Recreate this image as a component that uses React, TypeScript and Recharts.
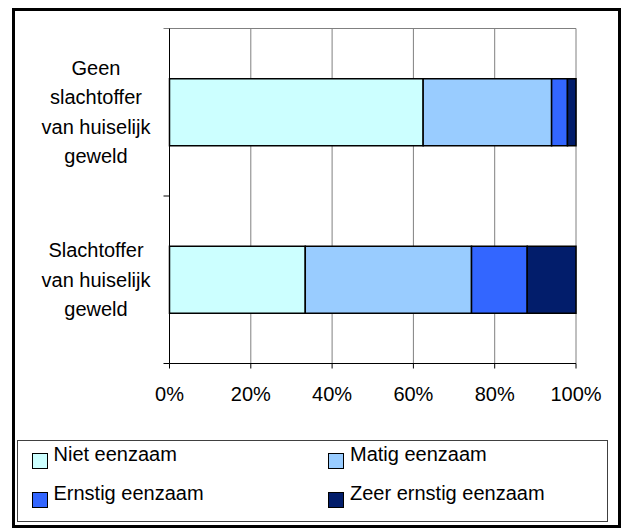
import React from 'react';
import { BarChart, Bar, XAxis, YAxis, CartesianGrid, usePlotArea } from 'recharts';

// categorieën (regelafbrekingen zoals in het origineel)
const CATEGORIES = [
  'Geen\nslachtoffer\nvan huiselijk\ngeweld',
  'Slachtoffer\nvan huiselijk\ngeweld',
];

// percentages per categorie
const NIET_EENZAAM = [62.4, 33.4];
const MATIG_EENZAAM = [31.6, 40.9];
const ERNSTIG_EENZAAM = [3.9, 13.7];
const ZEER_ERNSTIG_EENZAAM = [2.1, 12.0];

const X_TICKS = [0, 20, 40, 60, 80, 100];

const SERIES = [
  { key: 'niet', name: 'Niet eenzaam', values: NIET_EENZAAM, color: '#CCFFFF' },
  { key: 'matig', name: 'Matig eenzaam', values: MATIG_EENZAAM, color: '#99CCFF' },
  { key: 'ernstig', name: 'Ernstig eenzaam', values: ERNSTIG_EENZAAM, color: '#3366FF' },
  { key: 'zeer', name: 'Zeer ernstig eenzaam', values: ZEER_ERNSTIG_EENZAAM, color: '#021D6B' },
];

const FONT = 'Arial, "Liberation Sans", sans-serif';

const data = CATEGORIES.map((name, i) => {
  const row: Record<string, any> = { name };
  SERIES.forEach(s => {
    row[s.key] = s.values[i];
  });
  return row;
});

// meerregelige labels links van de as
const CategoryTick = ({ x, y, payload }: any) => {
  const lines = String(payload.value).split('\n');
  const lineHeight = 29.5;
  const cx = x - 73.5;
  const startY = y - ((lines.length - 1) * lineHeight) / 2;
  return (
    <text x={cx} y={startY} textAnchor="middle" fontFamily={FONT} fontSize={20} fill="#000">
      {lines.map((line, i) => (
        <tspan key={i} x={cx} y={startY + i * lineHeight} dy="0.34em">
          {line}
        </tspan>
      ))}
    </text>
  );
};

// bovenrand van het plotvlak + streepjes tussen de categorieën
const PlotFrame = () => {
  const area = usePlotArea();
  if (!area) return null;
  const { x, y, width, height } = area;
  const band = height / CATEGORIES.length;
  const edges = Array.from({ length: CATEGORIES.length + 1 }, (_, i) => y + i * band);
  return (
    <g>
      <line x1={x} y1={y} x2={x + width} y2={y} stroke="#808080" />
      {edges.map((ey, i) => (
        <line key={i} x1={x - 6} y1={ey} x2={x} y2={ey} stroke={i === 0 ? '#808080' : '#000'} />
      ))}
    </g>
  );
};

const App: React.FC = () => {
  return (
    <div style={{ position: 'absolute', left: 0, top: 0, width: 623, height: 528, background: '#fff' }}>
      <div
        style={{
          position: 'absolute',
          left: 12,
          top: 8,
          width: 609,
          height: 520,
          border: '3px solid #000',
          boxSizing: 'border-box',
        }}
      />
      <div style={{ position: 'absolute', left: 0, top: 0 }}>
        <BarChart
          width={623}
          height={528}
          data={data}
          layout="vertical"
          margin={{ top: 28.5, right: 47, bottom: 134.5, left: 0 }}
          barCategoryGap="30%"
        >
          <CartesianGrid horizontal={false} stroke="#808080" />
          <XAxis
            type="number"
            domain={[0, 100]}
            ticks={X_TICKS}
            interval={0}
            tickFormatter={(v: number) => `${v}%`}
            axisLine={{ stroke: '#000' }}
            tickLine={{ stroke: '#000' }}
            tickSize={5}
            tickMargin={18}
            height={30}
            tick={{ fill: '#000', fontSize: 20, fontFamily: FONT }}
          />
          <YAxis
            type="category"
            dataKey="name"
            width={169.5}
            interval={0}
            axisLine={{ stroke: '#000' }}
            tickLine={false}
            tickSize={0}
            tickMargin={0}
            tick={<CategoryTick />}
          />
          {SERIES.map(s => (
            <Bar
              key={s.key}
              dataKey={s.key}
              name={s.name}
              stackId="a"
              fill={s.color}
              stroke="#000"
              strokeWidth={1.5}
              isAnimationActive={false}
            />
          ))}
          <PlotFrame />
        </BarChart>
      </div>
      <div
        style={{
          position: 'absolute',
          left: 17,
          top: 440,
          width: 591,
          height: 82,
          border: '1px solid #404040',
          boxSizing: 'border-box',
        }}
      >
        {SERIES.map((s, i) => {
          const col = i % 2;
          const row = Math.floor(i / 2);
          return (
            <div
              key={s.key}
              style={{ position: 'absolute', left: 13.5 + col * 296.5, top: 3.2 + row * 38.5, height: 20 }}
            >
              <span
                style={{
                  position: 'absolute',
                  left: 0,
                  top: 9,
                  width: 16,
                  height: 16,
                  background: s.color,
                  border: '1px solid #000',
                  boxSizing: 'border-box',
                }}
              />
              <span
                style={{
                  position: 'absolute',
                  left: 22,
                  top: 0,
                  whiteSpace: 'nowrap',
                  fontFamily: FONT,
                  fontSize: 20,
                  lineHeight: '20px',
                  color: '#000',
                }}
              >
                {s.name}
              </span>
            </div>
          );
        })}
      </div>
    </div>
  );
};

export default App;
